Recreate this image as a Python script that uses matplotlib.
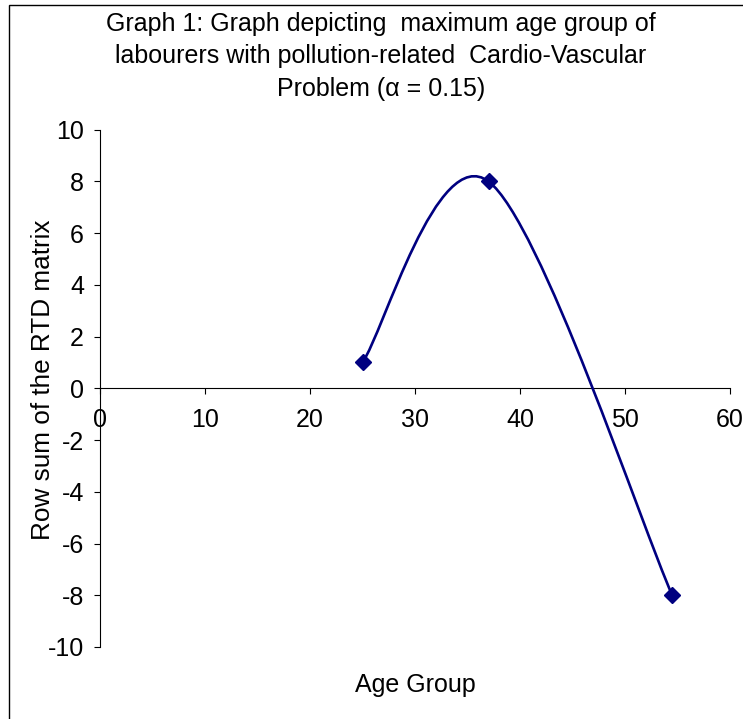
import matplotlib
matplotlib.use("Agg")
import matplotlib.pyplot as plt
from matplotlib.path import Path
from matplotlib.patches import PathPatch, Rectangle
import numpy as np

plt.rcParams['font.family'] = ['Liberation Sans', 'DejaVu Sans']
plt.rcParams['axes.unicode_minus'] = False

# data
age_group = [25, 37, 54.5]
row_sum = [1, 8, -8]

title_lines = [
    "Graph 1: Graph depicting  maximum age group of",
    "labourers with pollution-related  Cardio-Vascular",
    "Problem (\u03b1 = 0.15)",
]
x_ticks = [0, 10, 20, 30, 40, 50, 60]
y_ticks = [-10, -8, -6, -4, -2, 0, 2, 4, 6, 8, 10]

LINE_COLOR = "#000080"
FS = 18

fig = plt.figure(figsize=(7.43, 7.19), dpi=100)
W, H = 743, 719
ax = fig.add_axes([100 / W, 1 - 647 / H, 630 / W, (647 - 129.7) / H])

ax.set_xlim(0, 60)
ax.set_ylim(-10, 10)

# excel style smoothed line: bezier segments through the points
pts = np.column_stack([age_group, row_sum]).astype(float)
n = len(pts)
verts = [pts[0]]
codes = [Path.MOVETO]
for i in range(n - 1):
    p0 = pts[i - 1] if i > 0 else pts[i]
    p1 = pts[i]
    p2 = pts[i + 1]
    p3 = pts[i + 2] if i + 2 < n else pts[i + 1]
    c1 = p1 + (p2 - p0) / 6
    c2 = p2 - (p3 - p1) / 6
    verts += [c1, c2, p2]
    codes += [Path.CURVE4] * 3
curve = PathPatch(Path(verts, codes), facecolor="none", edgecolor=LINE_COLOR,
                  lw=1.9, transform=ax.transData, zorder=3)
ax.add_patch(curve)
ax.plot(age_group, row_sum, linestyle="none", marker="D", markersize=8.5,
        color=LINE_COLOR, zorder=4)

for s in ["top", "right"]:
    ax.spines[s].set_visible(False)
ax.spines["left"].set_position(("data", 0))
ax.spines["bottom"].set_position(("data", 0))
ax.spines["left"].set_linewidth(0.8)
ax.spines["bottom"].set_linewidth(0.8)

ax.set_xticks(x_ticks)
ax.set_yticks(y_ticks)
ax.tick_params(axis="x", direction="out", length=4.5, width=0.8, pad=10, labelsize=FS)
ax.tick_params(axis="y", direction="out", length=4.5, width=0.8, pad=7, labelsize=FS)

fig.text(415 / W, 1 - 685 / H, "Age Group", ha="center", va="center", fontsize=FS)
fig.text(43 / W, 1 - 380 / H, "Row sum of the RTD matrix", ha="center", va="center",
         rotation=90, fontsize=18.8)

for k, line in enumerate(title_lines):
    fig.text(381 / W, 1 - (24 + 32.5 * k) / H, line, ha="center", va="center", fontsize=FS)

# outer chart frame (runs off the right and bottom edges)
fig.patches.append(Rectangle((8.5 / W, -0.05), 1.2, 1 - 5 / H + 0.05,
                             transform=fig.transFigure, fill=False,
                             edgecolor="black", lw=1.0))

fig.savefig("out.png", dpi=100)
